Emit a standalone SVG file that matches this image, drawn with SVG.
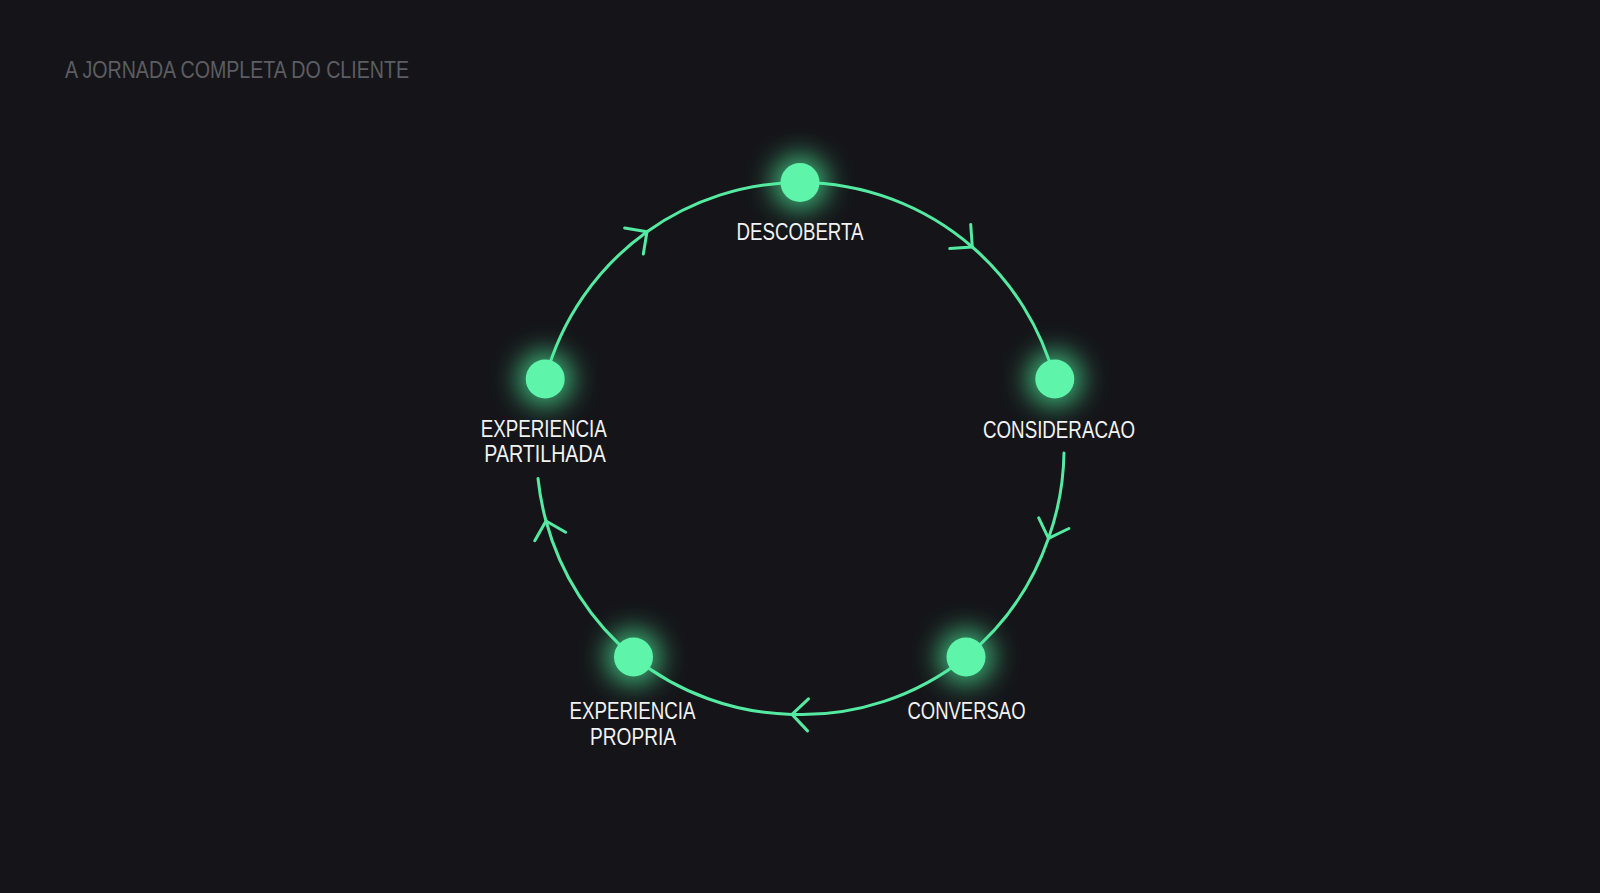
<svg xmlns="http://www.w3.org/2000/svg" width="1600" height="893" viewBox="0 0 1600 893">
  <defs>
    <style>
      .bg { fill: #151519; }
      .title { font-family: "Liberation Sans", Arial, sans-serif; font-size: 23px; fill: #5d5d62; }
      .label { font-family: "Liberation Sans", Arial, sans-serif; font-size: 24px; fill: #f2f2f2; text-anchor: middle; }
      .arc { fill: none; stroke: #55eaa2; stroke-width: 3; stroke-linecap: round; marker-mid: url(#chev); }
      .dot { fill: #5ef5aa; }
      .glow { fill: #4df09c; opacity: 0.7; filter: url(#blur); }
    </style>
    <filter id="blur" x="-100%" y="-100%" width="300%" height="300%">
      <feGaussianBlur stdDeviation="13"/>
    </filter>
    <marker id="chev" markerUnits="userSpaceOnUse" viewBox="-20 -20 24 40" markerWidth="24" markerHeight="40" refX="0" refY="0" orient="auto" overflow="visible">
      <path d="M-16,-16 L0,0 L-16,16" fill="none" stroke="#55eaa2" stroke-width="3" stroke-linecap="round" stroke-linejoin="round"/>
    </marker>
  </defs>
  <rect class="bg" x="0" y="0" width="1600" height="893"/>
  <text class="title" x="65" y="77.5" textLength="344" lengthAdjust="spacingAndGlyphs">A JORNADA COMPLETA DO CLIENTE</text>

  <g id="connectors">
    <path class="arc" d="M800,182.5 A264,266 0 0 1 972.3,247 A264,266 0 0 1 1054.8,379"/>
    <path class="arc" d="M1064,453 A264,266 0 0 1 1048.5,538.3 A264,266 0 0 1 966,657"/>
    <path class="arc" d="M966,657 A264,266 0 0 1 792,714.4 A264,266 0 0 1 633.5,657"/>
    <path class="arc" d="M633.5,657 A264,266 0 0 1 546,521 A264,266 0 0 1 538,478.5"/>
    <path class="arc" d="M545.2,379 A264,266 0 0 1 647,231.7 A264,266 0 0 1 800,182.5"/>
  </g>

  <g id="node-descoberta">
    <circle class="glow" cx="800" cy="182.5" r="28"/>
    <circle class="dot" cx="800" cy="182.5" r="19.5"/>
    <text class="label" x="800" y="240" textLength="127" lengthAdjust="spacingAndGlyphs">DESCOBERTA</text>
  </g>
  <g id="node-consideracao">
    <circle class="glow" cx="1054.8" cy="379" r="28"/>
    <circle class="dot" cx="1054.8" cy="379" r="19.5"/>
    <text class="label" x="1059" y="437.5" textLength="152" lengthAdjust="spacingAndGlyphs">CONSIDERACAO</text>
  </g>
  <g id="node-conversao">
    <circle class="glow" cx="966" cy="657" r="28"/>
    <circle class="dot" cx="966" cy="657" r="19.5"/>
    <text class="label" x="966.5" y="718.5" textLength="118" lengthAdjust="spacingAndGlyphs">CONVERSAO</text>
  </g>
  <g id="node-experiencia-propria">
    <circle class="glow" cx="633.5" cy="657" r="28"/>
    <circle class="dot" cx="633.5" cy="657" r="19.5"/>
    <text class="label" x="632.5" y="719" textLength="126" lengthAdjust="spacingAndGlyphs">EXPERIENCIA</text>
    <text class="label" x="633" y="744.5" textLength="86" lengthAdjust="spacingAndGlyphs">PROPRIA</text>
  </g>
  <g id="node-experiencia-partilhada">
    <circle class="glow" cx="545.2" cy="379" r="28"/>
    <circle class="dot" cx="545.2" cy="379" r="19.5"/>
    <text class="label" x="543.7" y="437" textLength="126" lengthAdjust="spacingAndGlyphs">EXPERIENCIA</text>
    <text class="label" x="545" y="462" textLength="121.5" lengthAdjust="spacingAndGlyphs">PARTILHADA</text>
  </g>
</svg>
